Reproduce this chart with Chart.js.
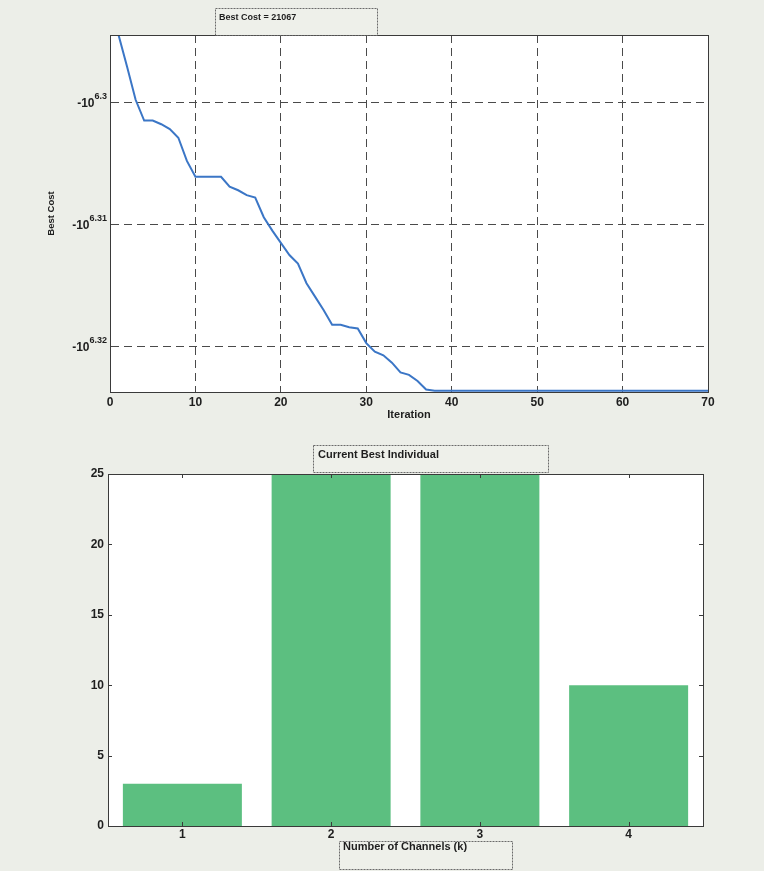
<!DOCTYPE html>
<html>
<head>
<meta charset="utf-8">
<script src="https://cdn.jsdelivr.net/npm/chart.js@4.4.1/dist/chart.umd.min.js"></script>
<style>
  html, body { margin: 0; padding: 0; background: #eceee8; }
  body { width: 764px; height: 871px; position: relative; overflow: hidden; }
  .wrap { position: absolute; left: 0; width: 764px; }
  #w1 { top: 0; height: 430px; }
  #w2 { top: 430px; height: 441px; }
  canvas { display: block; }
</style>
</head>
<body>
<div class="wrap" id="w1"><canvas id="c1" width="764" height="430"></canvas></div>
<div class="wrap" id="w2"><canvas id="c2" width="764" height="441"></canvas></div>
<script>
// ---------- data: top chart (Best Cost, plotted as log10 of |cost| on a -10^x axis) ----------
const iterations = [1,2,3,4,5,6,7,8,9,10,11,12,13,14,15,16,17,18,19,20,21,22,23,24,25,26,27,28,29,30,
  31,32,33,34,35,36,37,38,39,40,41,42,43,44,45,46,47,48,49,50,51,52,53,54,55,56,57,58,59,60,
  61,62,63,64,65,66,67,68,69,70];
const bestCostExponent = [6.2945,6.2971,6.2998,6.3015,6.3015,6.3018,6.3022,6.3029,6.3048,6.3061,
  6.3061,6.3061,6.3061,6.3069,6.3072,6.3076,6.3078,6.3094,6.3105,6.3115,
  6.3125,6.3132,6.3148,6.3159,6.3170,6.3182,6.3182,6.3184,6.3185,6.3197,
  6.3204,6.3207,6.3213,6.3221,6.3223,6.3228,6.3235,6.3236,6.3236,6.3236,
  6.3236,6.3236,6.3236,6.3236,6.3236,6.3236,6.3236,6.3236,6.3236,6.3236,
  6.3236,6.3236,6.3236,6.3236,6.3236,6.3236,6.3236,6.3236,6.3236,6.3236,
  6.3236,6.3236,6.3236,6.3236,6.3236,6.3236,6.3236,6.3236,6.3236,6.3236];
const yTickExponents = [6.3, 6.31, 6.32];
const yExpRange = [6.2945, 6.3237];
const xTickRange = [0, 70, 10];
const topTitle = 'Best Cost = 21067';
const topXLabel = 'Iteration';
const topYLabel = 'Best Cost';

// ---------- data: bottom chart (Current Best Individual) ----------
const genes = ['1', '2', '3', '4'];
const geneValues = [3, 25, 25, 10];
const barYRange = [0, 25, 5];
const bottomTitle = 'Current Best Individual';
const bottomXLabel = 'Number of Channels (k)';

const FONT = '"Liberation Sans", Arial, sans-serif';
const AXIS = '#3a3a3a';
const GRID = '#4a4a4a';

function drawBoxLabel(ctx, text, box, font) {
  ctx.save();
  ctx.fillStyle = '#eef0ea';
  ctx.fillRect(box.x, box.y, box.w, box.h);
  ctx.strokeStyle = '#6a6a6a';
  ctx.lineWidth = 1;
  ctx.setLineDash([2, 1]);
  ctx.strokeRect(box.x + 0.5, box.y + 0.5, box.w, box.h);
  ctx.setLineDash([]);
  ctx.fillStyle = '#1e1e1e';
  ctx.font = font;
  ctx.textAlign = 'left';
  ctx.textBaseline = 'middle';
  ctx.fillText(text, box.x + box.tx, box.y + box.ty);
  ctx.restore();
}

const whiteArea = {
  id: 'whiteArea',
  beforeDraw(chart) {
    const a = chart.chartArea, ctx = chart.ctx;
    ctx.save();
    ctx.fillStyle = '#ffffff';
    ctx.fillRect(a.left, a.top, a.right - a.left, a.bottom - a.top);
    ctx.restore();
  }
};

const frame = {
  id: 'frame',
  afterDraw(chart) {
    const a = chart.chartArea, ctx = chart.ctx;
    ctx.save();
    ctx.strokeStyle = AXIS;
    ctx.lineWidth = 1;
    ctx.strokeRect(Math.round(a.left) + 0.5, Math.round(a.top) + 0.5,
      Math.round(a.right - a.left), Math.round(a.bottom - a.top));
    ctx.restore();
  }
};

// ---------- top chart ----------
const topDecor = {
  id: 'topDecor',
  afterDraw(chart) {
    const ctx = chart.ctx, ys = chart.scales.y, a = chart.chartArea;
    ctx.save();
    ctx.fillStyle = '#1e1e1e';
    ctx.textBaseline = 'middle';
    ctx.textAlign = 'right';
    const xr = a.left - 3;
    yTickExponents.forEach(v => {
      const y = ys.getPixelForValue(v);
      const sup = String(v);
      ctx.font = 'bold 9px ' + FONT;
      const ws = ctx.measureText(sup).width;
      ctx.fillText(sup, xr, y - 6);
      ctx.font = 'bold 12px ' + FONT;
      ctx.fillText('-10', xr - ws, y + 1);
    });
    ctx.restore();
    drawBoxLabel(ctx, topTitle, {x: 215, y: 8, w: 162, h: 27, tx: 4, ty: 10}, 'bold 9px ' + FONT);
  }
};

new Chart(document.getElementById('c1'), {
  type: 'line',
  data: {
    datasets: [{
      data: iterations.map((x, i) => ({x: x, y: bestCostExponent[i]})),
      borderColor: '#3b76c6',
      borderWidth: 2,
      pointRadius: 0,
      tension: 0,
      fill: false
    }]
  },
  options: {
    responsive: false,
    animation: false,
    layout: {padding: {top: 35, right: 56, left: 46, bottom: 0}},
    plugins: {legend: {display: false}, tooltip: {enabled: false}, title: {display: false}},
    scales: {
      x: {
        type: 'linear',
        min: xTickRange[0], max: xTickRange[1],
        ticks: {stepSize: xTickRange[2], color: '#1e1e1e', font: {family: FONT, size: 12, weight: 'bold'}, padding: 3},
        grid: {color: GRID, lineWidth: 1, drawTicks: false},
        border: {display: true, color: AXIS, dash: [8, 5]},
        title: {display: true, text: topXLabel, color: '#1e1e1e', font: {family: FONT, size: 11, weight: 'bold'}, padding: {top: 0, bottom: 8}},
        afterFit(s) { s.height = 38; }
      },
      y: {
        type: 'linear',
        reverse: true,
        min: yExpRange[0], max: yExpRange[1],
        afterBuildTicks(s) { s.ticks = yTickExponents.map(v => ({value: v})); },
        ticks: {display: false},
        grid: {color: GRID, lineWidth: 1, drawTicks: false},
        border: {display: true, color: AXIS, dash: [8, 5]},
        title: {display: true, text: topYLabel, color: '#1e1e1e', font: {family: FONT, size: 9.5, weight: 'bold'}, padding: {top: 0, bottom: 0}},
        afterFit(s) { s.width = 64; }
      }
    }
  },
  plugins: [whiteArea, frame, topDecor]
});

// ---------- bottom chart ----------
const bottomDecor = {
  id: 'bottomDecor',
  afterDraw(chart) {
    const ctx = chart.ctx, a = chart.chartArea, ys = chart.scales.y, xs = chart.scales.x;
    ctx.save();
    ctx.strokeStyle = AXIS;
    ctx.lineWidth = 1;
    ctx.beginPath();
    ys.ticks.forEach(t => {
      const y = Math.round(ys.getPixelForValue(t.value)) + 0.5;
      ctx.moveTo(a.left, y); ctx.lineTo(a.left + 4, y);
      ctx.moveTo(a.right, y); ctx.lineTo(a.right - 4, y);
    });
    genes.forEach((g, i) => {
      const x = Math.round(xs.getPixelForValue(i)) + 0.5;
      ctx.moveTo(x, a.bottom); ctx.lineTo(x, a.bottom - 4);
      ctx.moveTo(x, a.top); ctx.lineTo(x, a.top + 4);
    });
    ctx.stroke();
    ctx.restore();
    drawBoxLabel(ctx, bottomTitle, {x: 313, y: 15, w: 235, h: 27, tx: 5, ty: 10}, 'bold 11px ' + FONT);
    drawBoxLabel(ctx, bottomXLabel, {x: 339, y: 411, w: 173, h: 28, tx: 4, ty: 6}, 'bold 11px ' + FONT);
  }
};

new Chart(document.getElementById('c2'), {
  type: 'bar',
  data: {
    labels: genes,
    datasets: [{
      data: geneValues,
      backgroundColor: '#5cbf80',
      borderWidth: 0,
      barPercentage: 0.8,
      categoryPercentage: 1.0
    }]
  },
  options: {
    responsive: false,
    animation: false,
    layout: {padding: {top: 44, right: 61, left: 0, bottom: 0}},
    plugins: {legend: {display: false}, tooltip: {enabled: false}, title: {display: false}},
    scales: {
      x: {
        type: 'category',
        offset: true,
        ticks: {color: '#1e1e1e', font: {family: FONT, size: 12, weight: 'bold'}, padding: 1},
        grid: {display: false, drawTicks: false},
        border: {display: true, color: AXIS},
        afterFit(s) { s.height = 45; }
      },
      y: {
        type: 'linear',
        min: barYRange[0], max: barYRange[1],
        ticks: {stepSize: barYRange[2], color: '#1e1e1e', font: {family: FONT, size: 12, weight: 'bold'}, padding: 4},
        grid: {display: false, drawTicks: false},
        border: {display: true, color: AXIS},
        afterFit(s) { s.width = 108; }
      }
    }
  },
  plugins: [whiteArea, frame, bottomDecor]
});
</script>
</body>
</html>
